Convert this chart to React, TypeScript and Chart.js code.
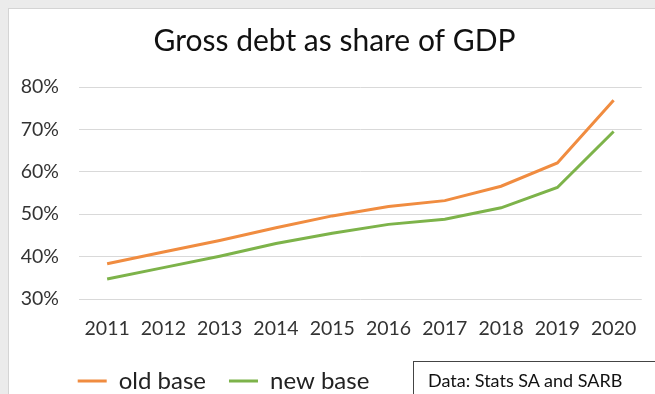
import React, { useEffect, useRef } from "react";
import { Chart, registerables } from "chart.js";

Chart.register(...registerables);

const categories = ["2011", "2012", "2013", "2014", "2015", "2016", "2017", "2018", "2019", "2020"];
const oldBase = [38.3, 41.1, 43.8, 46.8, 49.6, 51.8, 53.2, 56.6, 62.1, 76.9];
const newBase = [34.7, 37.4, 40.1, 43.1, 45.5, 47.6, 48.8, 51.5, 56.3, 69.5];
const seriesNames = ["old base", "new base"];
const titleText = "Gross debt as share of GDP";
const sourceText = "Data: Stats SA and SARB";

const FONT = "Lato, 'Open Sans', sans-serif";

export default function App() {
  const ref = useRef<HTMLCanvasElement | null>(null);

  useEffect(() => {
    if (!ref.current) return;
    const legendShift = {
      id: "legendShift",
      afterLayout(chart: any) {
        const lg = chart.legend;
        if (lg) {
          const d = 45.7 - lg.left;
          lg.left += d;
          lg.right += d;
        }
      },
    };
    const chart = new Chart(ref.current, {
      type: "line",
      data: {
        labels: categories,
        datasets: [
          {
            label: seriesNames[0],
            data: oldBase,
            borderColor: "#F08C40",
            backgroundColor: "#F08C40",
            borderWidth: 3,
            pointRadius: 0,
            tension: 0,
          },
          {
            label: seriesNames[1],
            data: newBase,
            borderColor: "#7DB34A",
            backgroundColor: "#7DB34A",
            borderWidth: 3,
            pointRadius: 0,
            tension: 0,
          },
        ],
      },
      options: {
        responsive: false,
        animation: false,
        devicePixelRatio: 1,
        layout: { padding: { left: 10, right: 5, top: 0, bottom: 0 } },
        plugins: {
          title: {
            display: true,
            text: titleText,
            color: "#111111",
            font: { family: FONT, size: 30, weight: "normal" },
            padding: { top: 14, bottom: 28 },
          },
          legend: {
            display: true,
            position: "bottom",
            align: "start",
            labels: {
              usePointStyle: true,
              pointStyle: "line",
              pointStyleWidth: 29,
              boxHeight: 3,
              padding: 23,
              color: "#222222",
              font: { family: FONT, size: 24 },
            },
          },
          tooltip: { enabled: false },
        },
        scales: {
          x: {
            offset: true,
            grid: { display: false, drawTicks: false },
            border: { display: false },
            ticks: {
              color: "#333333",
              font: { family: FONT, size: 19.5 },
              padding: 18.5,
              maxRotation: 0,
            },
            afterFit(scale: any) {
              scale.height = 47;
            },
          },
          y: {
            min: 30,
            max: 80,
            grid: { color: "#D9D9D9", drawTicks: false, lineWidth: 1 },
            border: { display: false },
            ticks: {
              stepSize: 10,
              color: "#333333",
              font: { family: FONT, size: 19.5 },
              padding: 20,
              callback: (v: any) => v + "%",
            },
            afterFit(scale: any) {
              scale.width = 60;
            },
          },
        },
      },
      plugins: [legendShift],
    });
    return () => chart.destroy();
  }, []);

  return (
    <div
      style={{
        position: "absolute",
        left: 0,
        top: 0,
        width: 655,
        height: 394,
        overflow: "hidden",
        background: "#EBEBEB",
      }}
    >
      <div
        style={{
          position: "absolute",
          left: 8,
          top: 8,
          width: 660,
          height: 400,
          background: "#FFFFFF",
          border: "1px solid #D4D4D4",
        }}
      />
      <canvas
        ref={ref}
        width={646}
        height={394}
        style={{ position: "absolute", left: 9, top: 9, width: 646, height: 394 }}
      />
      <div
        style={{
          position: "absolute",
          left: 413,
          top: 361,
          width: 260,
          height: 60,
          border: "1px solid #444444",
          background: "transparent",
          boxSizing: "border-box",
          fontFamily: FONT,
          fontSize: 18,
          lineHeight: "22px",
          color: "#111111",
          paddingLeft: 14,
          paddingTop: 7,
          whiteSpace: "nowrap",
        }}
      >
        {sourceText}
      </div>
    </div>
  );
}
